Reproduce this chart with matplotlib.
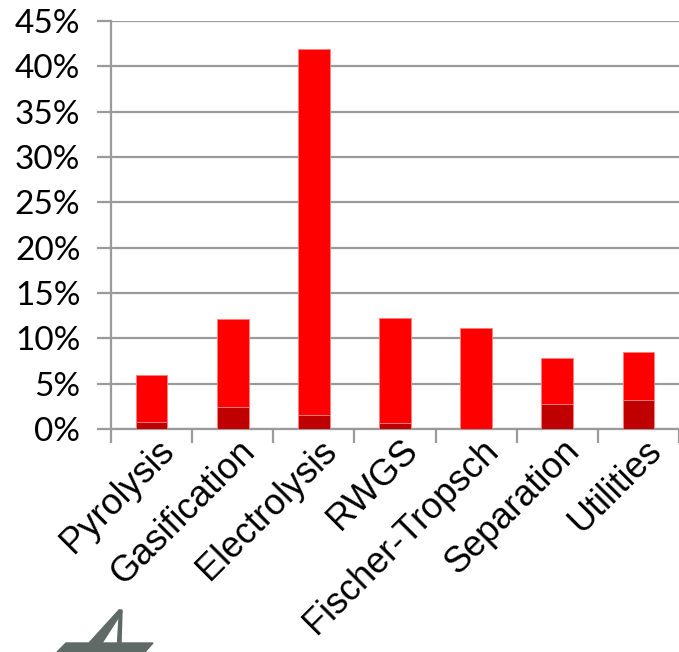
import matplotlib
matplotlib.use("Agg")
import matplotlib.pyplot as plt
import matplotlib.transforms as mtransforms
from matplotlib.patches import Polygon
import numpy as np

# Data (share of cost, %)
categories = ['Pyrolysis', 'Gasification', 'Electrolysis', 'RWGS',
              'Fischer-Tropsch', 'Separation', 'Utilities']
lower_part = [0.75, 2.4, 1.5, 0.7, 0.0, 2.8, 3.2]
total = [6.0, 12.1, 41.9, 12.2, 11.1, 7.8, 8.5]
upper_part = [t - l for t, l in zip(total, lower_part)]
y_ticks = [0, 5, 10, 15, 20, 25, 30, 35, 40, 45]

W, H = 679, 652
fig = plt.figure(figsize=(W / 100, H / 100), dpi=100)
ax = fig.add_axes([111 / W, (H - 429) / H, (W - 111) / W, (429 - 21) / H])

x = np.arange(len(categories))
grid_col = '#9a9a9a'
ax.bar(x, lower_part, width=0.39, color='#c00000', edgecolor='#ff8080',
       linewidth=0.6, zorder=3)
ax.bar(x, upper_part, bottom=lower_part, width=0.39, color='#ff0000',
       edgecolor='#ff8080', linewidth=0.6, zorder=3)

ax.set_xlim(-0.5, len(categories) - 0.5)
ax.set_ylim(0, 45)
ax.set_yticks(y_ticks)
ax.set_yticklabels([f'{v}%' for v in y_ticks], fontfamily='Lato', fontsize=24)
ax.yaxis.grid(True, color=grid_col, linewidth=1.6, zorder=0)
ax.tick_params(axis='y', length=10, width=1.6, color=grid_col, pad=12)

# category boundary ticks
ax.set_xticks(np.arange(len(categories) + 1) - 0.5, minor=False)
ax.set_xticklabels([])
ax.tick_params(axis='x', which='major', length=10, width=1.6, color=grid_col)
ax.set_xticks(x, minor=True)
ax.set_xticklabels(categories, minor=True, rotation=45, ha='right',
                   va='top', rotation_mode='anchor',
                   fontfamily='Liberation Sans', fontsize=26)
ax.tick_params(axis='x', which='minor', length=0, pad=3)
shift = mtransforms.ScaledTranslation(5 / 100, 0, fig.dpi_scale_trans)
for lbl in ax.get_xticklabels(minor=True):
    lbl.set_transform(lbl.get_transform() + shift)

for s in ['top', 'right']:
    ax.spines[s].set_visible(False)
for s in ['left', 'bottom']:
    ax.spines[s].set_color(grid_col)
    ax.spines[s].set_linewidth(1.6)

# partial logo at bottom-left
def px(pts):
    return [(px_ / W, 1 - py_ / H) for px_, py_ in pts]

logo_col = '#5f6a67'
logo_parts = [
    [(119, 610), (122, 612), (102, 643), (89, 643)],
    [(119.5, 610), (122, 610), (121, 643), (117.5, 643)],
    [(57, 652), (66, 643), (153, 643), (145, 652)],
]
for pts in logo_parts:
    fig.patches.append(Polygon(px(pts), closed=True, color=logo_col,
                               transform=fig.transFigure))

fig.savefig('out.png', dpi=100)
